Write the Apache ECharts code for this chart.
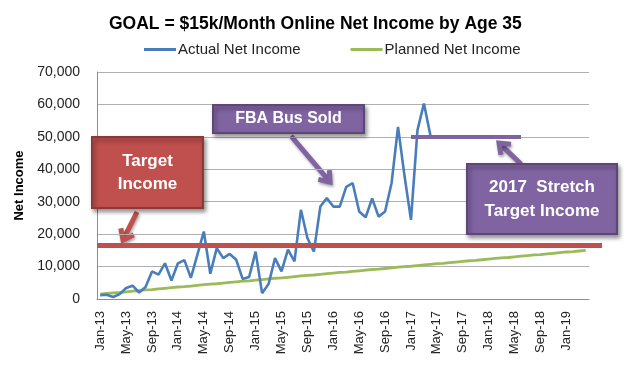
<!DOCTYPE html>
<html><head><meta charset="utf-8">
<script src="https://cdn.jsdelivr.net/npm/echarts@6/dist/echarts.min.js"></script>
<style>html,body{margin:0;padding:0;background:#fff}#c{width:628px;height:369px}</style>
</head><body><div id="c"></div>
<script>
// ---- data ----
const monthNames = ['Jan','Feb','Mar','Apr','May','Jun','Jul','Aug','Sep','Oct','Nov','Dec'];
const yearNames = ['13','14','15','16','17','18','19'];
const categories = []; // Jan-13 .. Apr-19 (76 months)
yearNames.forEach(y => monthNames.forEach(m => categories.push(m + '-' + y)));
categories.length = 76;

const actualNetIncome = [
  1200, 1300, 600, 1500, 3400, 4100, 2000, 3700, 8500, 7500, 11000, 5700,
  11000, 12000, 6500, 13600, 20800, 7800, 15700, 12600, 13900, 12100, 6200, 6800,
  14600, 1800, 4600, 12600, 8500, 15200, 11600, 27500, 18800, 14600, 28500, 31100,
  28500, 28500, 34600, 35700, 27000, 25200, 31000, 25400, 27000, 35700, 53100, 38000,
  24400, 52000, 60300, 50500
];
const plannedNetIncome = [
  1500, 1700, 1900, 2000, 2200, 2400, 2600, 2800, 2900, 3100, 3300, 3500,
  3700, 3800, 4000, 4200, 4400, 4600, 4700, 4900, 5100, 5300, 5500, 5600,
  5800, 6000, 6200, 6400, 6500, 6700, 6900, 7100, 7300, 7400, 7600, 7800,
  8000, 8200, 8300, 8500, 8700, 8900, 9100, 9200, 9400, 9600, 9800, 10000,
  10100, 10300, 10500, 10700, 10900, 11000, 11200, 11400, 11600, 11800, 11900, 12100,
  12300, 12500, 12700, 12800, 13000, 13200, 13400, 13600, 13700, 13900, 14100, 14300,
  14500, 14600, 14800, 15000
];
const yTicks = [0, 10000, 20000, 30000, 40000, 50000, 60000, 70000];
const targetIncome = 16700;
const stretchTarget = 50000;
const stretchRange = ['Jan-17', 'Jun-18'];

// ---- helpers for annotation shapes ----
const FONT = '"Liberation Sans", Arial, sans-serif';
function arrow(x1, y1, x2, y2, color) {
  const a = Math.atan2(y2 - y1, x2 - x1), L = 12, s = 0.65;
  const p1 = [x2 - L * Math.cos(a - s), y2 - L * Math.sin(a - s)];
  const p2 = [x2 - L * Math.cos(a + s), y2 - L * Math.sin(a + s)];
  const sh = {shadowBlur: 3, shadowOffsetX: 1, shadowOffsetY: 2, shadowColor: 'rgba(0,0,0,0.35)'};
  return {type: 'group', z: 100, children: [
    {type: 'line', shape: {x1, y1, x2: x2 - 2 * Math.cos(a), y2: y2 - 2 * Math.sin(a)},
     style: Object.assign({stroke: color, lineWidth: 5}, sh)},
    {type: 'polyline', shape: {points: [p1, [x2, y2], p2]},
     style: Object.assign({stroke: color, lineWidth: 5, fill: null, lineJoin: 'miter'}, sh)}
  ]};
}
function box(x, y, w, h, fill, stroke, text, fs, lh) {
  return {type: 'rect', z: 100, shape: {x, y, width: w, height: h},
    style: {fill, stroke, lineWidth: 2, shadowBlur: 4, shadowOffsetX: 2, shadowOffsetY: 3, shadowColor: 'rgba(0,0,0,0.4)'},
    textContent: {z: 101, style: {text, fill: '#fff', fontSize: fs, fontWeight: 'bold', fontFamily: FONT,
      align: 'center', verticalAlign: 'middle', lineHeight: lh}},
    textConfig: {position: 'inside'}};
}

const chart = echarts.init(document.getElementById('c'));
chart.setOption({
  animation: false,
  backgroundColor: '#fff',
  title: {text: 'GOAL = $15k/Month Online Net Income by Age 35', left: 104, top: 10,
    textStyle: {fontFamily: FONT, fontSize: 17.5, fontWeight: 'bold', color: '#000'}},
  legend: {left: 139, top: 37, icon: 'rect', itemWidth: 32, itemHeight: 3, itemGap: 50,
    textStyle: {fontFamily: FONT, fontSize: 15, color: '#222', padding: [0, 0, 0, -3]},
    data: ['Actual Net Income', 'Planned Net Income']},
  grid: {left: 97, right: 39, top: 72, bottom: 70, containLabel: false},
  xAxis: {type: 'category', data: categories, boundaryGap: true,
    axisLine: {lineStyle: {color: '#8c8c8c', width: 1}},
    axisTick: {show: false},
    axisLabel: {interval: 3, rotate: 90, margin: 12, fontFamily: FONT, fontSize: 13, color: '#222'}},
  yAxis: {type: 'value', min: yTicks[0], max: yTicks[yTicks.length - 1], interval: yTicks[1] - yTicks[0],
    name: 'Net Income', nameLocation: 'middle', nameGap: 62,
    nameTextStyle: {fontFamily: FONT, fontSize: 13, fontWeight: 'bold', color: '#000'},
    axisLine: {show: true, lineStyle: {color: '#8c8c8c'}},
    axisTick: {show: false},
    splitLine: {lineStyle: {color: '#b0b0b0', width: 1}},
    axisLabel: {margin: 17, fontFamily: FONT, fontSize: 14, color: '#222',
      formatter: v => v.toLocaleString('en-US')}},
  series: [
    {name: 'Actual Net Income', type: 'line', data: actualNetIncome, symbol: 'none',
     lineStyle: {color: '#4a7ebb', width: 2.6}, itemStyle: {color: '#4a7ebb'}, z: 3,
     markLine: {silent: true, symbol: 'none', label: {show: false}, z: 5,
       data: [
         [{coord: [categories[0], targetIncome], x: 97, lineStyle: {color: '#c0504d', width: 5, type: 'solid'}},
          {coord: [categories[categories.length - 1], targetIncome], x: 602}],
         [{coord: [stretchRange[0], stretchTarget], lineStyle: {color: '#8064a2', width: 4, type: 'solid'}},
          {coord: [stretchRange[1], stretchTarget]}]
       ]}},
    {name: 'Planned Net Income', type: 'line', data: plannedNetIncome, symbol: 'none',
     lineStyle: {color: '#9bbb59', width: 2.8}, itemStyle: {color: '#9bbb59'}, z: 2}
  ],
  graphic: [
    box(92, 137, 111, 71, '#c0504d', '#8c3836', 'Target\nIncome', 17, 23),
    arrow(137, 212, 123, 240, '#c0504d'),
    box(213, 105, 151, 28, '#8064a2', '#5c4776', 'FBA Bus Sold', 16, 20),
    arrow(291, 136, 330, 182, '#8064a2'),
    box(467, 164, 150, 70, '#8064a2', '#5c4776', '2017  Stretch\nTarget Income', 17, 24),
    arrow(521, 164, 499, 143, '#8064a2')
  ]
});
</script></body></html>
